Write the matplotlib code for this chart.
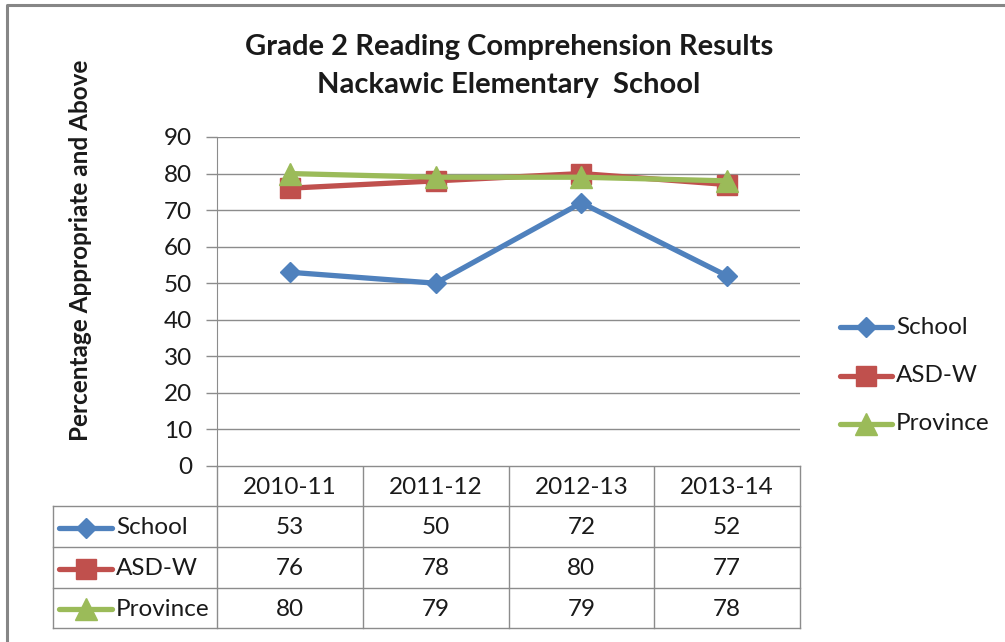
import matplotlib.pyplot as plt
import numpy as np

plt.rcParams['font.family'] = ['Lato', 'DejaVu Sans']

# data
years = ['2010-11', '2011-12', '2012-13', '2013-14']
school = [53, 50, 72, 52]
asdw = [76, 78, 80, 77]
province = [80, 79, 79, 78]

names = ['School', 'ASD-W', 'Province']
colors = ['#4F81BD', '#C0504D', '#9BBB59']
markers = ['D', 's', '^']
msizes = [10.5, 14, 16]
series = [school, asdw, province]

W, H = 1005, 642
fig = plt.figure(figsize=(W / 100, H / 100), dpi=100)

# overlay in pixel coords for border / table / legend
ov = fig.add_axes([0, 0, 1, 1])
ov.set_xlim(0, W)
ov.set_ylim(H, 0)
ov.axis('off')

grid_c = '#8C8C8C'
txt_c = '#1a1a1a'
fs = 17.5
lw = 3.8
# outer chart border (runs off right/bottom edge)
ov.plot([7, 7, W + 10], [H + 10, 5, 5], color='#868686', lw=2.2, solid_capstyle='butt')

# plot area
L, R, T, B = 217, 800, 137, 466
ax = fig.add_axes([L / W, 1 - B / H, (R - L) / W, (B - T) / H])
x = np.arange(len(years))
for vals, c, m, ms, n in zip(series, colors, markers, msizes, names):
    ax.plot(x, vals, color=c, lw=lw, marker=m, ms=ms, mec=c, mfc=c, label=n, zorder=3)
ax.set_xlim(-0.5, len(years) - 0.5)
ax.set_ylim(0, 90)
ax.set_yticks(range(0, 91, 10))
ax.set_xticks([])
ax.yaxis.grid(True, color=grid_c, lw=1)
ax.set_axisbelow(True)
for s in ['top', 'right', 'bottom']:
    ax.spines[s].set_visible(False)
ax.spines['left'].set_color(grid_c)
ax.tick_params(axis='y', length=8, width=1, color=grid_c, labelsize=fs, pad=10, labelcolor=txt_c)

# title and y label
fig.text(509 / W, 1 - 47 / H, 'Grade 2 Reading Comprehension Results', ha='center', va='center',
         fontsize=21, fontweight='bold', color=txt_c)
fig.text(509 / W, 1 - 85 / H, 'Nackawic Elementary  School', ha='center', va='center',
         fontsize=21, fontweight='bold', color=txt_c)
fig.text(80 / W, 1 - 250 / H, 'Percentage Appropriate and Above', ha='center', va='center',
         rotation=90, fontsize=17.5, fontweight='bold', color=txt_c)

# data table
cols = [L + (R - L) * i / len(years) for i in range(len(years) + 1)]
rows = [466, 506, 547, 588, 628]
TL = 53
ov.plot([L, R], [rows[0], rows[0]], color=grid_c, lw=1)
for yy in rows[1:]:
    ov.plot([TL, R], [yy, yy], color=grid_c, lw=1)
for xx in cols:
    ov.plot([xx, xx], [rows[0], rows[-1]], color=grid_c, lw=1)
ov.plot([TL, TL], [rows[1], rows[-1]], color=grid_c, lw=1)
for i, yr in enumerate(years):
    ov.text((cols[i] + cols[i + 1]) / 2, (rows[0] + rows[1]) / 2 + 1, yr, ha='center', va='center',
            fontsize=fs, color=txt_c)
for r, (vals, c, m, ms, n) in enumerate(zip(series, colors, markers, msizes, names)):
    yc = (rows[r + 1] + rows[r + 2]) / 2 + 1
    ov.plot([59, 112], [yc, yc], color=c, lw=lw, solid_capstyle='round')
    ov.plot([85.5], [yc], marker=m, ms=ms, color=c)
    ov.text(116, yc, n, ha='left', va='center', fontsize=fs, color=txt_c)
    for i, v in enumerate(vals):
        ov.text((cols[i] + cols[i + 1]) / 2, yc, str(v), ha='center', va='center',
                fontsize=fs, color=txt_c)

# legend
for ly, c, m, ms, n in zip([327, 376, 424], colors, markers, msizes, names):
    ov.plot([840, 892], [ly, ly], color=c, lw=lw, solid_capstyle='round')
    ov.plot([866], [ly], marker=m, ms=ms, color=c)
    ov.text(896, ly, n, ha='left', va='center', fontsize=fs, color=txt_c)

fig.savefig('out.png', dpi=100)
